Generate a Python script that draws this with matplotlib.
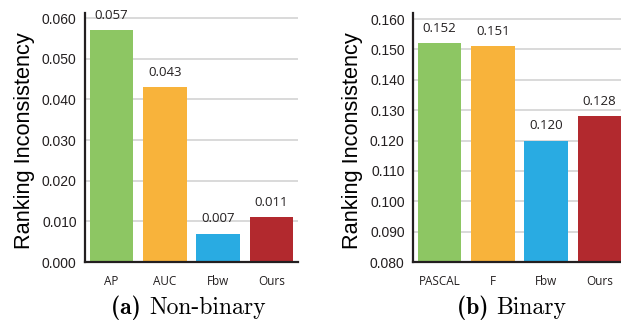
import matplotlib.pyplot as plt

# dados
cats_a = ['AP', 'AUC', 'Fbw', 'Ours']
vals_a = [0.057, 0.043, 0.007, 0.011]
cats_b = ['PASCAL', 'F', 'Fbw', 'Ours']
vals_b = [0.152, 0.151, 0.120, 0.128]
cores = ['#8DC663', '#F8B33B', '#29ABE2', '#B2292E']

ticks_a = [0.0, 0.01, 0.02, 0.03, 0.04, 0.05, 0.06]
ticks_b = [0.08, 0.09, 0.10, 0.11, 0.12, 0.13, 0.14, 0.15, 0.16]

fig = plt.figure(figsize=(6.21, 3.21), dpi=100)


def painel(rect, cats, vals, ticks, ylim, legenda, cx):
    ax = fig.add_axes(rect)
    x = range(len(cats))
    ax.bar(x, [v - ylim[0] for v in vals], bottom=ylim[0], width=0.82,
           color=cores, zorder=3)
    for i, v in zip(x, vals):
        ax.annotate('%.3f' % v, (i, v), xytext=(0, 6), textcoords='offset points',
                    ha='center', va='bottom', fontsize=9.5, family='Open Sans',
                    color='#231F20', zorder=4)
    ax.set_xlim(-0.5, len(cats) - 0.5)
    ax.set_ylim(*ylim)
    ax.set_xticks(list(x))
    ax.set_xticklabels(cats, fontsize=8.5, family='Open Sans', color='#231F20')
    ax.set_yticks(ticks)
    ax.set_yticklabels(['%.3f' % t for t in ticks], fontsize=10,
                       family='Liberation Sans', color='#231F20')
    ax.tick_params(length=0, pad=6)
    ax.tick_params(axis='x', pad=9)
    ax.grid(axis='y', color='#D0D0D0', linewidth=1.1, zorder=0)
    for s in ['top', 'right']:
        ax.spines[s].set_visible(False)
    for s in ['left', 'bottom']:
        ax.spines[s].set_color('#231F20')
        ax.spines[s].set_linewidth(1.6)
        ax.spines[s].set_zorder(5)
    ax.set_ylabel('Ranking Inconsistency', fontsize=15.7, family='Liberation Sans',
                  color='black')
    ax.yaxis.set_label_coords(-0.235, 0.486)
    fig.text(cx, 0.022, legenda[0], fontsize=17, family='cmb10', ha='right', va='baseline')
    fig.text(cx, 0.022, legenda[1], fontsize=17, family='cmr10', ha='left', va='baseline')
    return ax


painel([0.1369, 0.1838, 0.343, 0.7757], cats_a, vals_a, ticks_a,
       (0.0, 0.06123), ('(a) ', 'Non-binary'), 0.24)
painel([0.665, 0.1838, 0.343, 0.7757], cats_b, vals_b, ticks_b,
       (0.08, 0.16198), ('(b) ', 'Binary'), 0.799)

fig.savefig('out.png', dpi=100)
